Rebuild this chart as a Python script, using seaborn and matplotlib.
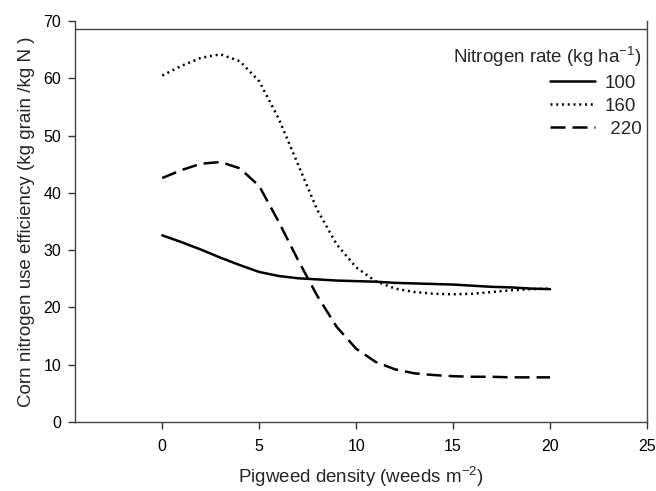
import matplotlib
matplotlib.use("Agg")
import matplotlib.pyplot as plt
import seaborn as sns
import pandas as pd
import numpy as np

# pigweed density (weeds m-2)
density = [0, 1, 2, 3, 4, 5, 6, 7, 8, 9, 10, 11, 12, 13, 14, 15, 16, 17, 18, 19, 20]

# corn nitrogen use efficiency for each nitrogen rate
nue_100 = [32.6, 31.4, 30.1, 28.7, 27.4, 26.2, 25.5, 25.1, 24.9, 24.7, 24.6,
           24.5, 24.3, 24.2, 24.1, 24.0, 23.8, 23.6, 23.5, 23.3, 23.2]
nue_160 = [60.5, 62.2, 63.6, 64.2, 63.0, 59.5, 53.0, 45.0, 37.0, 31.0, 27.0,
           24.6, 23.3, 22.7, 22.4, 22.3, 22.4, 22.7, 23.0, 23.2, 23.3]
nue_220 = [42.6, 44.0, 45.1, 45.4, 44.3, 41.2, 35.0, 28.3, 22.0, 16.6, 12.8,
           10.5, 9.2, 8.5, 8.2, 8.0, 7.9, 7.9, 7.8, 7.8, 7.8]

rates = ["100", "160", " 220"]

df = pd.DataFrame({
    "density": density * 3,
    "nue": nue_100 + nue_160 + nue_220,
    "rate": [rates[0]] * len(density) + [rates[1]] * len(density) + [rates[2]] * len(density),
})

sns.set_style("ticks")
plt.rcParams["font.family"] = ["Liberation Sans", "DejaVu Sans"]
plt.rcParams["mathtext.default"] = "regular"

fig = plt.figure(figsize=(6.56, 4.91), dpi=100)
ax = fig.add_axes([0.1143, 0.1405, 0.872, 0.8165])

dashes = {rates[0]: "", rates[1]: (0.8, 1.5), rates[2]: (6, 2.8)}
sns.lineplot(data=df, x="density", y="nue", style="rate", dashes=dashes,
             color="black", linewidth=1.8, ax=ax)

ax.set_xlim(-4.5, 25)
ax.set_ylim(0, 70)
ax.set_xticks([0, 5, 10, 15, 20, 25])
ax.set_yticks([0, 10, 20, 30, 40, 50, 60, 70])
ax.tick_params(direction="out", length=5, width=1, colors="#333333", labelsize=11.5,
               labelcolor="black")
ax.tick_params(axis="x", pad=7)
ax.tick_params(axis="y", pad=5)

for s in ["left", "bottom", "right"]:
    ax.spines[s].set_color("#444444")
    ax.spines[s].set_linewidth(1)
ax.spines["top"].set_visible(False)
ax.axhline(68.6, color="#444444", linewidth=1)

ax.set_xlabel("Pigweed density (weeds m$^{-2}$)", fontsize=13.5, labelpad=8)
ax.set_ylabel("Corn nitrogen use efficiency (kg grain /kg N )", fontsize=13.5, labelpad=6)

handles, labels = ax.get_legend_handles_labels()
leg = ax.legend(handles, labels, title="Nitrogen rate (kg ha$^{-1}$)", loc="upper right",
                bbox_to_anchor=(0.99, 0.94), frameon=False, fontsize=13.5,
                title_fontsize=13.5, handlelength=2.4, labelspacing=0.3,
                handletextpad=0.5, borderaxespad=0, borderpad=0, alignment="right")

plt.savefig("out.png", dpi=100)
